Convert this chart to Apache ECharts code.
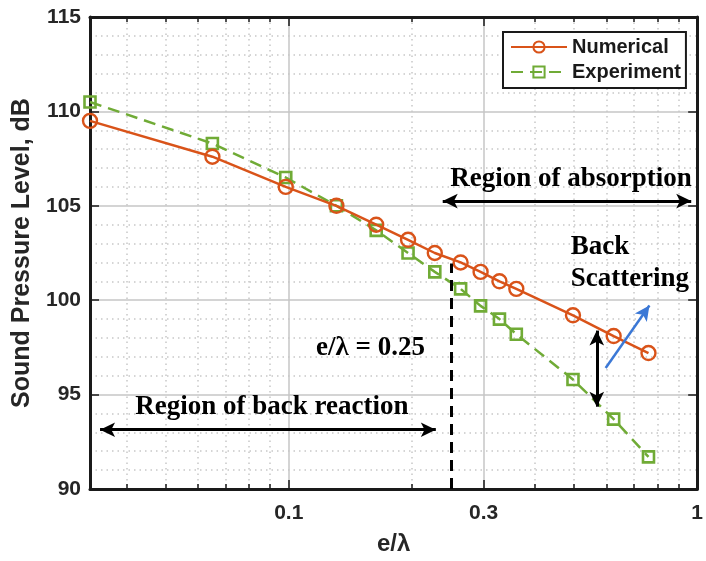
<!DOCTYPE html>
<html><head><meta charset="utf-8">
<script src="https://cdn.jsdelivr.net/npm/echarts@6/dist/echarts.min.js"></script>
<style>html,body{margin:0;padding:0;background:#fff}#c{width:706px;height:561px}</style>
</head><body><div id="c"></div><script>
// ---- data ----
const ratio      = [0.0326, 0.0650, 0.0983, 0.1308, 0.1637, 0.1959, 0.2278, 0.2635, 0.2949, 0.3280, 0.3607, 0.4965, 0.6245, 0.7600];
const numerical  = [109.5, 107.6, 106.0, 105.0, 104.0, 103.2, 102.5, 102.0, 101.5, 101.0, 100.6, 99.2, 98.1, 97.2];
const experiment = [110.5, 108.3, 106.5, 105.0, 103.7, 102.5, 101.5, 100.6, 99.7, 99.0, 98.2, 95.8, 93.7, 91.7];
const xMajorTicks = [0.1, 0.3, 1];
const xMinorTicks = [0.04, 0.05, 0.06, 0.07, 0.08, 0.09, 0.2, 0.4, 0.5, 0.6, 0.7, 0.8, 0.9];
const xRange = [0.0326, 1];
const yRange = [90, 115];
const yStep = 5;
const threshold = 0.25;
// annotation anchors (data coords)
const absorbArrow = [[0.2382, 105.25], [0.967, 105.25]];
const backArrow   = [[0.0345, 93.14], [0.2291, 93.14]];
const thresholdLine = [[threshold, 90], [threshold, 101.95]];
const gapArrow  = [[0.5678, 98.39], [0.5678, 94.36]];
const blueArrow = [[0.597, 96.41], [0.764, 99.72]];
const texts = [
  {text: 'Region of absorption', at: [0.491, 106.44], align: 'center'},
  {text: 'Back', at: [0.490, 102.84], align: 'left'},
  {text: 'Scattering', at: [0.490, 101.11], align: 'left'},
  {text: 'e/λ = 0.25', at: [0.2154, 97.48], align: 'right'},
  {text: 'Region of back reaction', at: [0.0909, 94.33], align: 'center'}
];

const ORANGE = '#D95319', GREEN = '#70AB36';
const SANS = '"Liberation Sans", Arial, sans-serif';
const SERIF = '"Liberation Serif", "Times New Roman", serif';
const MAJOR_GRID = {color: '#c6c6c6', width: 1.5, type: 'solid'};
const MINOR_GRID = {color: '#c8c8c8', width: 1.5, type: [1.5, 4]};
const AXIS_LINE = {show: true, lineStyle: {color: '#1a1a1a', width: 3}};

const chart = echarts.init(document.getElementById('c'), null, {renderer: 'canvas'});

function xAx(position, ticks, len, opts) {
  return Object.assign({
    type: 'log', logBase: 10, min: xRange[0], max: xRange[1], position: position, gridIndex: 0,
    axisLine: {show: false},
    axisTick: {show: true, inside: true, length: len, customValues: ticks, lineStyle: {color: '#1a1a1a', width: 1.5}},
    axisLabel: {show: false},
    splitLine: {show: false},
    minorTick: {show: false}, minorSplitLine: {show: false}
  }, opts || {});
}

const option = {
  animation: false,
  backgroundColor: '#fff',
  grid: {left: 90, right: 5, top: 17, bottom: 68, containLabel: false},
  legend: {
    data: ['Numerical', 'Experiment'], orient: 'vertical', left: 503, top: 32,
    itemWidth: 56, itemHeight: 14, itemGap: 5,
    padding: [5, 5, 6, 7],
    borderColor: '#1a1a1a', borderWidth: 2, backgroundColor: '#fff',
    textStyle: {fontSize: 20, fontWeight: 'bold', fontFamily: SANS, color: '#1a1a1a', padding: [0, 0, 0, 0]}
  },
  xAxis: [
    xAx('bottom', xMajorTicks, 9, {
      axisLine: AXIS_LINE,
      axisLabel: {show: true, customValues: xMajorTicks, margin: 14, fontSize: 21, fontWeight: 'bold', fontFamily: SANS, color: '#262626',
        formatter: v => String(Math.round(v * 10) / 10)},
      splitLine: {show: true, lineStyle: MAJOR_GRID},
      name: 'e/λ', nameLocation: 'middle', nameGap: 43,
      nameTextStyle: {fontSize: 24, fontWeight: 'bold', fontFamily: SANS, color: '#262626'}
    }),
    xAx('top', xMajorTicks, 9, {axisLine: AXIS_LINE}),
    xAx('bottom', xMinorTicks, 5, {splitLine: {show: true, lineStyle: MINOR_GRID}}),
    xAx('top', xMinorTicks, 5)
  ],
  yAxis: [
    {type: 'value', min: yRange[0], max: yRange[1], interval: yStep, position: 'left',
      axisLine: AXIS_LINE,
      axisTick: {show: true, inside: true, length: 9, lineStyle: {color: '#1a1a1a', width: 1.5}},
      axisLabel: {fontSize: 21, fontWeight: 'bold', fontFamily: SANS, color: '#262626', margin: 9},
      splitLine: {show: true, lineStyle: MAJOR_GRID},
      minorTick: {show: false, splitNumber: 5},
      minorSplitLine: {show: true, lineStyle: MINOR_GRID},
      name: 'Sound Pressure Level, dB', nameLocation: 'middle', nameGap: 55,
      nameTextStyle: {fontSize: 25, fontWeight: 'bold', fontFamily: SANS, color: '#262626'}
    },
    {type: 'value', min: yRange[0], max: yRange[1], interval: yStep, position: 'right',
      axisLine: AXIS_LINE,
      axisTick: {show: true, inside: true, length: 9, lineStyle: {color: '#1a1a1a', width: 1.5}},
      axisLabel: {show: false}, splitLine: {show: false}
    }
  ],
  series: [
    {
      name: 'Numerical', type: 'line', xAxisIndex: 0, yAxisIndex: 0, clip: false, z: 4,
      data: ratio.map((x, i) => [x, numerical[i]]),
      symbol: 'circle', symbolSize: 14,
      itemStyle: {color: 'rgba(255,255,255,0)', borderColor: ORANGE, borderWidth: 2.4},
      lineStyle: {color: ORANGE, width: 2.5},
      markLine: {
        silent: true, animation: false, symbolSize: [11, 15],
        label: {show: false},
        data: [
          [{coord: absorbArrow[0], symbol: 'arrow', lineStyle: {color: '#000', width: 3, type: 'solid'}}, {coord: absorbArrow[1], symbol: 'arrow'}],
          [{coord: backArrow[0], symbol: 'arrow', lineStyle: {color: '#000', width: 3, type: 'solid'}}, {coord: backArrow[1], symbol: 'arrow'}],
          [{coord: gapArrow[0], symbol: 'arrow', lineStyle: {color: '#000', width: 3, type: 'solid'}}, {coord: gapArrow[1], symbol: 'arrow'}],
          [{coord: blueArrow[0], symbol: 'none', lineStyle: {color: '#3b78d6', width: 2.5, type: 'solid'}}, {coord: blueArrow[1], symbol: 'arrow'}],
          [{coord: thresholdLine[0], symbol: 'none', lineStyle: {color: '#000', width: 3, type: [11, 7]}}, {coord: thresholdLine[1], symbol: 'none'}]
        ]
      }
    },
    {
      name: 'Experiment', type: 'line', xAxisIndex: 0, yAxisIndex: 0, clip: false, z: 3,
      data: ratio.map((x, i) => [x, experiment[i]]),
      symbol: 'rect', symbolSize: 11,
      itemStyle: {color: 'rgba(255,255,255,0)', borderColor: GREEN, borderWidth: 2.6},
      lineStyle: {color: GREEN, width: 2.5, type: [12, 7]}
    }
  ]
};
chart.setOption(option);

const P = (pt) => chart.convertToPixel({xAxisIndex: 0, yAxisIndex: 0}, pt);
chart.setOption({
  graphic: texts.map(t => {
    const p = P(t.at);
    return {type: 'text', x: p[0], y: p[1], z: 100, silent: true,
      style: {text: t.text, fill: '#000', font: 'bold 27px ' + SERIF, textAlign: t.align, textVerticalAlign: 'middle'}};
  })
});
</script></body></html>
